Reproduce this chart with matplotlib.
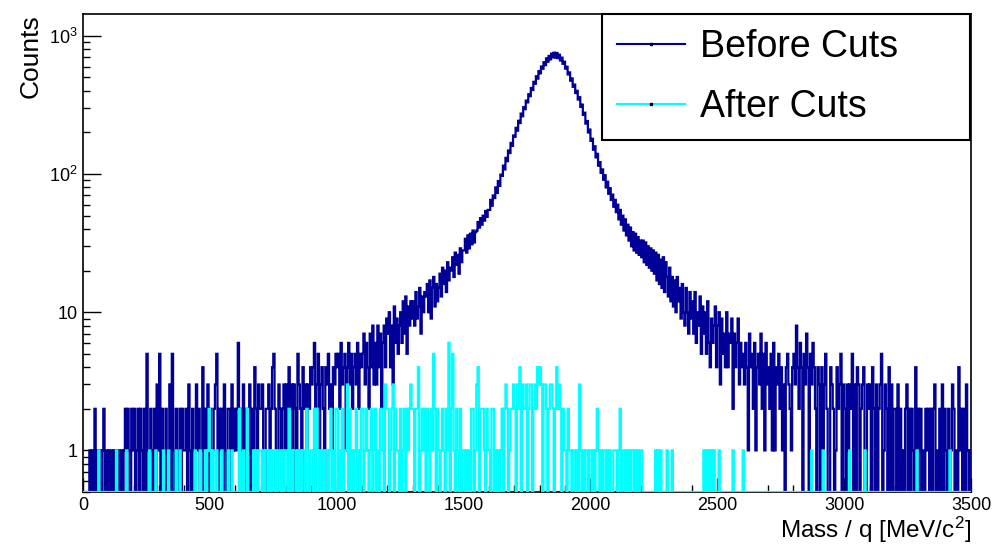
import numpy as np
import matplotlib
matplotlib.use("Agg")
import matplotlib.pyplot as plt
from matplotlib.lines import Line2D
from matplotlib.ticker import FixedLocator, FixedFormatter, LogLocator, MultipleLocator, NullFormatter

plt.rcParams['font.family'] = ['Liberation Sans', 'DejaVu Sans']
plt.rcParams['mathtext.fontset'] = 'custom'
plt.rcParams['mathtext.rm'] = 'Liberation Sans'
plt.rcParams['mathtext.it'] = 'Liberation Sans:italic'

# mass/q axis range (MeV/c^2); histogram binned in equal bins over it
mass_range = (0, 3500)

# "Before Cuts" counts
# 0-1100 MeV, 20 bins per 100 MeV, one digit per bin
before_low = [
    "00000101020101012010",
    "10101010101012021021",
    "20120210205102102031",
    "50210201305102102021",
    "12031021031201402130",
    "20123502120310220312",
    "12602130221302142032",
    "23102230245201320231",
    "31423032153204231324",
    "34623513420435231435",
    "45263451463524536254",
]
# 1100-2600 MeV, 10 bins per row (50 MeV)
before_peak = [
    5, 7, 3, 6, 4, 2, 7, 4, 8, 3,
    6, 3, 8, 4, 7, 2, 6, 8, 4, 9,
    7, 10, 4, 8, 3, 11, 6, 9, 5, 8,
    10, 6, 12, 7, 13, 5, 11, 8, 12, 9,
    12, 8, 14, 9, 11, 15, 7, 13, 10, 14,
    13, 16, 10, 17, 9, 15, 18, 11, 16, 12,
    15, 19, 13, 21, 16, 20, 14, 23, 17, 21,
    20, 25, 18, 27, 22, 26, 19, 29, 23, 28,
    28, 34, 27, 36, 29, 37, 31, 39, 32, 38,
    39, 45, 41, 48, 43, 50, 46, 54, 49, 55,
    55, 65, 59, 70, 67, 80, 73, 89, 82, 99,
    97, 115, 108, 131, 124, 148, 142, 168, 160, 190,
    186, 216, 206, 243, 234, 274, 262, 305, 295, 340,
    330, 378, 366, 420, 406, 465, 450, 510, 490, 556,
    536, 600, 578, 645, 614, 688, 650, 716, 676, 744,
    700, 756, 696, 752, 690, 730, 664, 696, 628, 650,
    580, 598, 526, 544, 474, 492, 428, 444, 386, 400,
    346, 360, 306, 318, 268, 278, 232, 242, 200, 210,
    174, 180, 150, 159, 132, 140, 115, 122, 102, 108,
    91, 98, 80, 88, 72, 79, 65, 71, 58, 65,
    53, 60, 47, 55, 43, 50, 39, 47, 36, 43,
    33, 41, 30, 38, 28, 37, 27, 35, 26, 33,
    25, 33, 23, 32, 22, 30, 21, 29, 20, 28,
    19, 27, 17, 26, 16, 24, 15, 25, 14, 23,
    18, 13, 21, 12, 18, 11, 17, 10, 18, 12,
    15, 9, 16, 10, 8, 15, 10, 7, 14, 9,
    12, 7, 14, 6, 10, 8, 13, 5, 11, 7,
    10, 5, 12, 6, 4, 9, 6, 8, 11, 4,
    8, 10, 3, 9, 5, 7, 4, 10, 4, 7,
    6, 9, 2, 7, 4, 6, 9, 3, 6, 4,
]
# 2600-3500 MeV
before_high = [
    "53641745261453725163",
    "42516143524130453214",
    "53842640537405364204",
    "30413520043201423503",
    "20313250304302340032",
    "30420302350132040302",
    "20302010230202104120",
    "20102120202301020302",
    "10201320104120203101",
]

# "After Cuts" counts, 0-3500 MeV, 20 bins per 100 MeV
after_cuts = [
    "00000000000010000000",
    "00000010000000100000",
    "00000000000010000100",
    "00010001000001001000",
    "00000000100010001012",
    "10100100010000100100",
    "00020010020000101011",
    "10101101011010110101",
    "10201011010101102101",
    "10202101010110120102",
    "20102011302010120102",
    "20121012012010221032",
    "20123021102012021232",
    "20224012120210215202",
    "10121021602510210201",
    "10101022013402221021",
    "10220101012023201223",
    "20324032230233023243",
    "43033202332024232021",
    "10211011010310101101",
    "10101210101101010011",
    "10120110101011010101",
    "10000000000101010000",
    "10001000000000000000",
    "00000000010101010100",
    "01000000000010000000",
    "10000000000000000000",
    "00000000000000000000",
    "00000000000000100000",
    "00010000000000000000",
    "00001000000000001000",
    "00000000000000000000",
    "00000000000000000100",
    "00000000000000000000",
    "00010000000000000000",
]

y_major = [1, 10, 100, 1000]
y_major_labels = ["1", "10", "$10^{2}$", "$10^{3}$"]
labels = ["Before Cuts", "After Cuts"]


def digits(rows):
    return [int(c) for c in "".join(rows)]


before = np.array(digits(before_low) + before_peak + digits(before_high))
after = np.array(digits(after_cuts))

BLUE = "#000099"
CYAN = "#00ffff"
YMIN, YMAX = 0.5, 1440

fig = plt.figure(figsize=(9.94, 5.44), dpi=100)
ax = fig.add_axes([83 / 994, 52 / 544, 888 / 994, 478 / 544])

for counts, col in ((before, BLUE), (after, CYAN)):
    edges = np.linspace(mass_range[0], mass_range[1], len(counts) + 1)
    # empty bins drop to the bottom of the frame, like ROOT does on a log axis
    ax.stairs(np.maximum(counts, YMIN), edges, color=col, lw=1.6,
              baseline=None, zorder=3)

ax.set_xlim(*mass_range)
ax.set_yscale("log")
ax.set_ylim(YMIN, YMAX)

ax.xaxis.set_major_locator(MultipleLocator(500))
ax.xaxis.set_minor_locator(MultipleLocator(100))
ax.yaxis.set_major_locator(FixedLocator(y_major))
ax.yaxis.set_major_formatter(FixedFormatter(y_major_labels))
ax.yaxis.set_minor_locator(LogLocator(base=10, subs=np.arange(2, 10)))
ax.yaxis.set_minor_formatter(NullFormatter())

ax.tick_params(which="both", direction="in", top=False, right=False, width=1.0)
ax.tick_params(axis="x", which="major", length=10, labelsize=13, pad=3.5)
ax.tick_params(axis="x", which="minor", length=5)
ax.tick_params(axis="y", which="major", length=13, labelsize=13, pad=4)
ax.tick_params(axis="y", which="minor", length=5)
for sp in ax.spines.values():
    sp.set_linewidth(1.2)

ax.set_xlabel("Mass / q [MeV/c$^{2}$]", fontsize=17.5, loc="right")
ax.xaxis.set_label_coords(1.0, -0.097)
ax.xaxis.label.set_va("baseline")
ax.set_ylabel("Counts", fontsize=19, loc="top")
ax.yaxis.set_label_coords(-0.045, 1.0)

handles = [Line2D([], [], color=c, lw=1.5, marker="s", markersize=1.5,
                  mfc="k", mec="k") for c in (BLUE, CYAN)]
leg = ax.legend(handles, labels, loc="upper left",
                bbox_to_anchor=(602 / 994, 407 / 544, 368 / 994, 123 / 544),
                bbox_transform=fig.transFigure, mode="expand", fontsize=27,
                frameon=True, fancybox=False, framealpha=1, edgecolor="black",
                borderpad=0.4, labelspacing=0.64, handlelength=1.8,
                handletextpad=0.4, borderaxespad=0, numpoints=1)
leg.get_frame().set_linewidth(1.5)
leg.set_zorder(5)

fig.savefig("out.png", dpi=100)
